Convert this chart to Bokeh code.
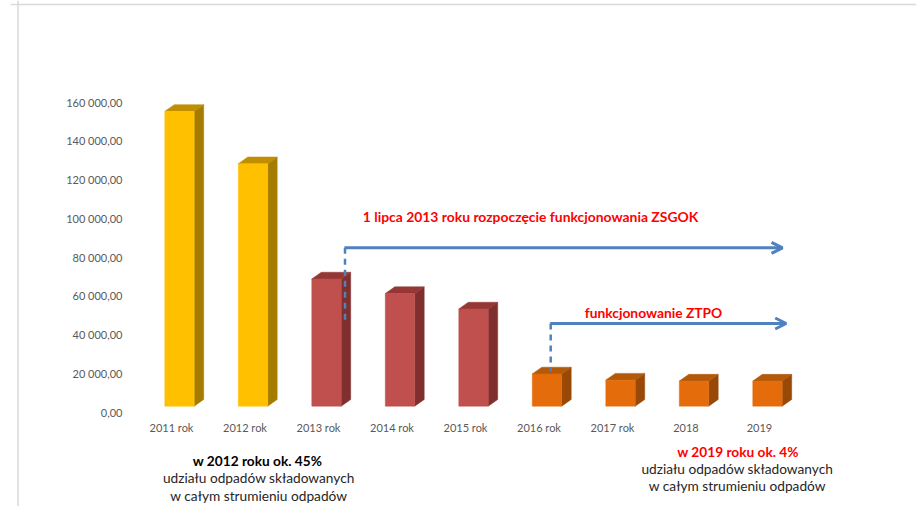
from bokeh.plotting import figure
from bokeh.models import Range1d, FixedTicker, LinearAxis, Span, ColumnDataSource, Arrow, OpenHead, Label
from bokeh.embed import file_html
from bokeh.resources import INLINE

# ---- data ----
categories = ["2011 rok", "2012 rok", "2013 rok", "2014 rok", "2015 rok",
              "2016 rok", "2017 rok", "2018", "2019"]
values = [157000, 130000, 70500, 63000, 55000, 21500, 18300, 17800, 17800]
groups = ["przed", "przed", "ZSGOK", "ZSGOK", "ZSGOK", "ZTPO", "ZTPO", "ZTPO", "ZTPO"]
y_ticks = [0, 20000, 40000, 60000, 80000, 100000, 120000, 140000, 160000]
y_tick_labels = ["0,00", "20 000,00", "40 000,00", "60 000,00", "80 000,00",
                 "100 000,00", "120 000,00", "140 000,00", "160 000,00"]

front_col = {"przed": "#FFC000", "ZSGOK": "#C0504D", "ZTPO": "#E46C0A"}
side_col = {"przed": "#A67C00", "ZSGOK": "#7F2F2D", "ZTPO": "#984807"}
top_col = {"przed": "#BF8F00", "ZSGOK": "#953735", "ZTPO": "#B25A0A"}

# ---- layout helpers (page pixel -> data) ----
PX_CAT = 73.5
X0 = 172.0
Y0 = 412.7
U_PX = 160000 / 310.0
SHIFT = 7  # observed offset of the figure on the page

def dx(px):
    return px / PX_CAT

def dy(px):
    return px * U_PX

def X(px):
    return (px - X0) / PX_CAT

def Y(py):
    return (Y0 - py) * U_PX

FONT = "Lato"

p = figure(width=916, height=506, output_backend="svg", toolbar_location=None,
           x_range=Range1d(X(18 - SHIFT), X(924 - SHIFT)),
           y_range=Range1d(Y(514 - SHIFT), Y(8 - SHIFT)),
           x_axis_location=None, y_axis_location=None,
           min_border_left=10, min_border_right=0, min_border_top=0, min_border_bottom=0)
p.outline_line_color = None
p.grid.visible = False
p.background_fill_color = "white"
p.border_fill_color = "white"

# border lines of the chart area
p.add_layout(Span(location=Y(5), dimension="width", line_color="#d9d9d9", line_width=1.5))
p.add_layout(Span(location=X(18.5), dimension="height", line_color="#d9d9d9", line_width=1.5))

# ---- axes ----
xaxis = LinearAxis(ticker=FixedTicker(ticks=list(range(len(categories)))),
                   major_label_overrides={i: c for i, c in enumerate(categories)},
                   fixed_location=0)
xaxis.axis_line_color = None
xaxis.major_tick_line_color = None
xaxis.minor_tick_line_color = None
xaxis.major_tick_out = 0
xaxis.major_label_standoff = 9
xaxis.major_label_text_font = FONT
xaxis.major_label_text_font_size = "11px"
xaxis.major_label_text_color = "#595959"
p.add_layout(xaxis, "below")

yaxis = LinearAxis(ticker=FixedTicker(ticks=y_ticks),
                   major_label_overrides=dict(zip(y_ticks, y_tick_labels)),
                   fixed_location=X(127))
yaxis.axis_line_color = None
yaxis.major_tick_line_color = None
yaxis.minor_tick_line_color = None
yaxis.major_tick_out = 0
yaxis.major_label_standoff = 4
yaxis.major_label_text_font = FONT
yaxis.major_label_text_font_size = "11px"
yaxis.major_label_text_color = "#595959"
p.add_layout(yaxis, "left")

# ---- 3D-looking columns ----
base = dy(6)
half = dy(3.35)
ddx = dx(9.5)
ddy = dy(6.7)
L, R, B, T, FC = [], [], [], [], []
sx, sy, sc, tx, ty, tc = [], [], [], [], [], []
for i, (v, g) in enumerate(zip(values, groups)):
    l = i + dx(-6.7)
    r = i + dx(22.7)
    ft = v - half
    bt = v + half
    L.append(l); R.append(r); B.append(base); T.append(ft); FC.append(front_col[g])
    sx.append([r, r + ddx, r + ddx, r]); sy.append([base, base + ddy, bt, ft]); sc.append(side_col[g])
    tx.append([l, l + ddx, r + ddx, r]); ty.append([ft, bt, bt, ft]); tc.append(top_col[g])

p.patches(xs="xs", ys="ys", fill_color="c", line_color="c", line_width=0.5,
          source=ColumnDataSource(dict(xs=sx, ys=sy, c=sc)))
p.patches(xs="xs", ys="ys", fill_color="c", line_color="c", line_width=0.5,
          source=ColumnDataSource(dict(xs=tx, ys=ty, c=tc)))
p.quad(left="l", right="r", bottom="b", top="t", fill_color="c", line_color="c", line_width=0.5,
       source=ColumnDataSource(dict(l=L, r=R, b=B, t=T, c=FC)))

# ---- arrows ----
BLUE = "#4F81BD"
p.add_layout(Arrow(end=OpenHead(size=11, line_color=BLUE, line_width=3),
                   x_start=X(345), y_start=Y(248.3), x_end=X(783), y_end=Y(248.3),
                   line_color=BLUE, line_width=3))
p.add_layout(Arrow(end=None, x_start=X(345.5), y_start=Y(248.3), x_end=X(345.5), y_end=Y(325),
                   line_color=BLUE, line_width=2.5, line_dash="6 5"))
p.add_layout(Arrow(end=OpenHead(size=11, line_color=BLUE, line_width=3),
                   x_start=X(550.7), y_start=Y(324), x_end=X(786.7), y_end=Y(324),
                   line_color=BLUE, line_width=3))
p.add_layout(Arrow(end=None, x_start=X(551.2), y_start=Y(324), x_end=X(551.2), y_end=Y(372),
                   line_color=BLUE, line_width=2.5, line_dash="6 5"))

# ---- texts ----
def lab(txt, px, py, color="#000000", bold=False, size="13.7px"):
    p.add_layout(Label(x=X(px), y=Y(py), text=txt, text_align="center", text_baseline="middle",
                       text_font=FONT, text_font_size=size, text_color=color,
                       text_font_style="bold" if bold else "normal"))

lab("1 lipca 2013 roku rozpoczęcie funkcjonowania ZSGOK", 531, 216.7, "#FF0000", True, "13.9px")
lab("funkcjonowanie ZTPO", 654, 312.7, "#FF0000", True, "13.8px")
lab("w 2012 roku ok. 45%", 258, 461, "#000000", True)
lab("udziału odpadów składowanych", 259.3, 478.3, "#262626")
lab("w całym strumieniu odpadów", 259.3, 495.7, "#262626")
lab("w 2019 roku ok. 4%", 738.5, 451.7, "#FF0000", True)
lab("udziału odpadów składowanych", 737.8, 469, "#262626")
lab("w całym strumieniu odpadów", 737.8, 486, "#262626")

open("out.html", "w").write(file_html(p, INLINE))
